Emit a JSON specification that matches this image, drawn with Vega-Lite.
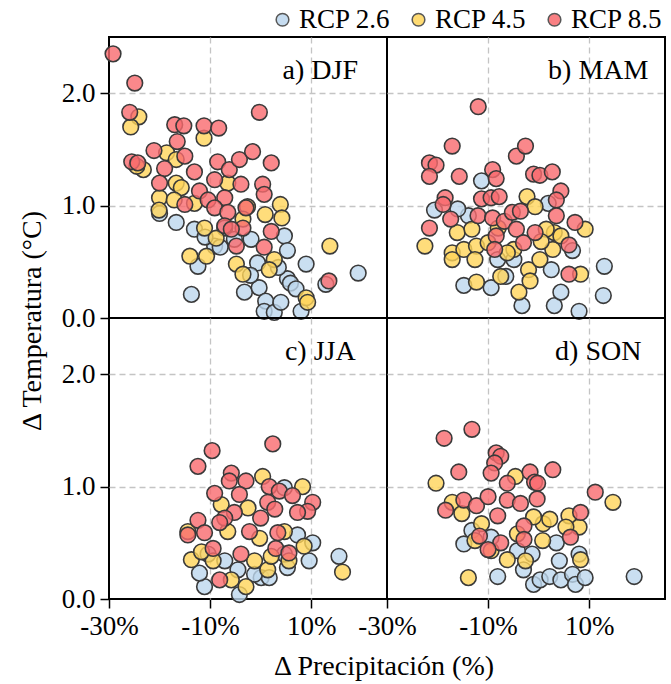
{
"$schema": "https://vega.github.io/schema/vega-lite/v6.json",
"padding": {"left": 18, "top": 6, "right": 0, "bottom": 0},
"background": "white",
"bounds": "flush",
"datasets": {"pts": [
{"panel":"a) DJF","rcp":"RCP 2.6","dp":-13.7,"dt":0.21},{"panel":"a) DJF","rcp":"RCP 2.6","dp":-16.7,"dt":0.85},{"panel":"a) DJF","rcp":"RCP 2.6","dp":-20.0,"dt":0.93},{"panel":"a) DJF","rcp":"RCP 2.6","dp":-12.4,"dt":0.46},{"panel":"a) DJF","rcp":"RCP 2.6","dp":-13.1,"dt":0.79},{"panel":"a) DJF","rcp":"RCP 2.6","dp":-9.1,"dt":0.64},{"panel":"a) DJF","rcp":"RCP 2.6","dp":-1.9,"dt":0.70},{"panel":"a) DJF","rcp":"RCP 2.6","dp":-3.2,"dt":0.23},{"panel":"a) DJF","rcp":"RCP 2.6","dp":-0.6,"dt":0.49},{"panel":"a) DJF","rcp":"RCP 2.6","dp":-0.3,"dt":0.27},{"panel":"a) DJF","rcp":"RCP 2.6","dp":1.0,"dt":0.15},{"panel":"a) DJF","rcp":"RCP 2.6","dp":0.7,"dt":0.06},{"panel":"a) DJF","rcp":"RCP 2.6","dp":2.7,"dt":0.05},{"panel":"a) DJF","rcp":"RCP 2.6","dp":4.0,"dt":0.14},{"panel":"a) DJF","rcp":"RCP 2.6","dp":5.3,"dt":0.35},{"panel":"a) DJF","rcp":"RCP 2.6","dp":5.9,"dt":0.31},{"panel":"a) DJF","rcp":"RCP 2.6","dp":7.0,"dt":0.26},{"panel":"a) DJF","rcp":"RCP 2.6","dp":9.0,"dt":0.48},{"panel":"a) DJF","rcp":"RCP 2.6","dp":8.0,"dt":0.06},{"panel":"a) DJF","rcp":"RCP 2.6","dp":19.3,"dt":0.40},{"panel":"a) DJF","rcp":"RCP 2.6","dp":12.9,"dt":0.30},{"panel":"a) DJF","rcp":"RCP 2.6","dp":4.7,"dt":0.73},{"panel":"a) DJF","rcp":"RCP 2.6","dp":5.3,"dt":0.60},{"panel":"a) DJF","rcp":"RCP 2.6","dp":-7.1,"dt":0.80},{"panel":"a) DJF","rcp":"RCP 2.6","dp":-5.2,"dt":0.70},{"panel":"a) DJF","rcp":"RCP 2.6","dp":-8.0,"dt":0.63},{"panel":"a) DJF","rcp":"RCP 2.6","dp":-11.0,"dt":0.72},{"panel":"a) DJF","rcp":"RCP 2.6","dp":3.5,"dt":0.45},{"panel":"a) DJF","rcp":"RCP 2.6","dp":-2.0,"dt":0.38},
{"panel":"b) MAM","rcp":"RCP 2.6","dp":-20.6,"dt":0.96},{"panel":"b) MAM","rcp":"RCP 2.6","dp":-11.3,"dt":1.22},{"panel":"b) MAM","rcp":"RCP 2.6","dp":-14.8,"dt":0.29},{"panel":"b) MAM","rcp":"RCP 2.6","dp":-9.4,"dt":0.27},{"panel":"b) MAM","rcp":"RCP 2.6","dp":-3.3,"dt":0.11},{"panel":"b) MAM","rcp":"RCP 2.6","dp":3.1,"dt":0.11},{"panel":"b) MAM","rcp":"RCP 2.6","dp":8.0,"dt":0.06},{"panel":"b) MAM","rcp":"RCP 2.6","dp":4.4,"dt":0.23},{"panel":"b) MAM","rcp":"RCP 2.6","dp":13.0,"dt":0.46},{"panel":"b) MAM","rcp":"RCP 2.6","dp":12.8,"dt":0.20},{"panel":"b) MAM","rcp":"RCP 2.6","dp":2.5,"dt":0.43},{"panel":"b) MAM","rcp":"RCP 2.6","dp":6.7,"dt":0.60},{"panel":"b) MAM","rcp":"RCP 2.6","dp":-6.5,"dt":0.37},{"panel":"b) MAM","rcp":"RCP 2.6","dp":1.9,"dt":1.02},{"panel":"b) MAM","rcp":"RCP 2.6","dp":-8.1,"dt":0.52},{"panel":"b) MAM","rcp":"RCP 2.6","dp":-4.9,"dt":0.52},{"panel":"b) MAM","rcp":"RCP 2.6","dp":-13.9,"dt":0.91},{"panel":"b) MAM","rcp":"RCP 2.6","dp":-16.0,"dt":0.97},
{"panel":"c) JJA","rcp":"RCP 2.6","dp":-11.1,"dt":0.11},{"panel":"c) JJA","rcp":"RCP 2.6","dp":-12.1,"dt":0.23},{"panel":"c) JJA","rcp":"RCP 2.6","dp":-4.2,"dt":0.04},{"panel":"c) JJA","rcp":"RCP 2.6","dp":0.1,"dt":0.19},{"panel":"c) JJA","rcp":"RCP 2.6","dp":1.7,"dt":0.19},{"panel":"c) JJA","rcp":"RCP 2.6","dp":5.3,"dt":0.28},{"panel":"c) JJA","rcp":"RCP 2.6","dp":9.6,"dt":0.34},{"panel":"c) JJA","rcp":"RCP 2.6","dp":10.3,"dt":0.50},{"panel":"c) JJA","rcp":"RCP 2.6","dp":7.3,"dt":0.57},{"panel":"c) JJA","rcp":"RCP 2.6","dp":4.7,"dt":0.99},{"panel":"c) JJA","rcp":"RCP 2.6","dp":15.5,"dt":0.38},{"panel":"c) JJA","rcp":"RCP 2.6","dp":-7.1,"dt":0.34},{"panel":"c) JJA","rcp":"RCP 2.6","dp":-4.5,"dt":0.26},{"panel":"c) JJA","rcp":"RCP 2.6","dp":-1.2,"dt":0.22},{"panel":"c) JJA","rcp":"RCP 2.6","dp":4.7,"dt":0.40},{"panel":"c) JJA","rcp":"RCP 2.6","dp":-10.4,"dt":0.40},
{"panel":"d) SON","rcp":"RCP 2.6","dp":-14.8,"dt":0.49},{"panel":"d) SON","rcp":"RCP 2.6","dp":-13.2,"dt":0.61},{"panel":"d) SON","rcp":"RCP 2.6","dp":-8.1,"dt":0.20},{"panel":"d) SON","rcp":"RCP 2.6","dp":-3.0,"dt":0.26},{"panel":"d) SON","rcp":"RCP 2.6","dp":-1.0,"dt":0.13},{"panel":"d) SON","rcp":"RCP 2.6","dp":0.3,"dt":0.17},{"panel":"d) SON","rcp":"RCP 2.6","dp":2.2,"dt":0.20},{"panel":"d) SON","rcp":"RCP 2.6","dp":4.4,"dt":0.17},{"panel":"d) SON","rcp":"RCP 2.6","dp":6.7,"dt":0.22},{"panel":"d) SON","rcp":"RCP 2.6","dp":7.3,"dt":0.13},{"panel":"d) SON","rcp":"RCP 2.6","dp":9.2,"dt":0.19},{"panel":"d) SON","rcp":"RCP 2.6","dp":18.9,"dt":0.20},{"panel":"d) SON","rcp":"RCP 2.6","dp":8.0,"dt":0.40},{"panel":"d) SON","rcp":"RCP 2.6","dp":3.5,"dt":0.50},{"panel":"d) SON","rcp":"RCP 2.6","dp":-1.3,"dt":0.40},{"panel":"d) SON","rcp":"RCP 2.6","dp":-9.4,"dt":0.55},{"panel":"d) SON","rcp":"RCP 2.6","dp":-4.2,"dt":0.43},{"panel":"d) SON","rcp":"RCP 2.6","dp":4.1,"dt":0.34},
{"panel":"a) DJF","rcp":"RCP 4.5","dp":-24.1,"dt":1.79},{"panel":"a) DJF","rcp":"RCP 4.5","dp":-25.7,"dt":1.70},{"panel":"a) DJF","rcp":"RCP 4.5","dp":-23.2,"dt":1.32},{"panel":"a) DJF","rcp":"RCP 4.5","dp":-18.6,"dt":1.47},{"panel":"a) DJF","rcp":"RCP 4.5","dp":-16.7,"dt":1.41},{"panel":"a) DJF","rcp":"RCP 4.5","dp":-11.2,"dt":1.60},{"panel":"a) DJF","rcp":"RCP 4.5","dp":-16.7,"dt":1.20},{"panel":"a) DJF","rcp":"RCP 4.5","dp":-15.7,"dt":1.16},{"panel":"a) DJF","rcp":"RCP 4.5","dp":-20.0,"dt":1.07},{"panel":"a) DJF","rcp":"RCP 4.5","dp":-20.1,"dt":0.96},{"panel":"a) DJF","rcp":"RCP 4.5","dp":-17.1,"dt":1.05},{"panel":"a) DJF","rcp":"RCP 4.5","dp":-13.1,"dt":1.02},{"panel":"a) DJF","rcp":"RCP 4.5","dp":-6.5,"dt":1.20},{"panel":"a) DJF","rcp":"RCP 4.5","dp":-2.6,"dt":0.99},{"panel":"a) DJF","rcp":"RCP 4.5","dp":3.9,"dt":1.01},{"panel":"a) DJF","rcp":"RCP 4.5","dp":0.9,"dt":0.92},{"panel":"a) DJF","rcp":"RCP 4.5","dp":4.2,"dt":0.89},{"panel":"a) DJF","rcp":"RCP 4.5","dp":-11.1,"dt":0.80},{"panel":"a) DJF","rcp":"RCP 4.5","dp":-8.8,"dt":0.71},{"panel":"a) DJF","rcp":"RCP 4.5","dp":-14.0,"dt":0.55},{"panel":"a) DJF","rcp":"RCP 4.5","dp":-10.7,"dt":0.55},{"panel":"a) DJF","rcp":"RCP 4.5","dp":-4.8,"dt":0.48},{"panel":"a) DJF","rcp":"RCP 4.5","dp":-3.5,"dt":0.39},{"panel":"a) DJF","rcp":"RCP 4.5","dp":2.7,"dt":0.52},{"panel":"a) DJF","rcp":"RCP 4.5","dp":1.7,"dt":0.43},{"panel":"a) DJF","rcp":"RCP 4.5","dp":13.7,"dt":0.64},{"panel":"a) DJF","rcp":"RCP 4.5","dp":9.0,"dt":0.18},{"panel":"a) DJF","rcp":"RCP 4.5","dp":9.3,"dt":0.14},{"panel":"a) DJF","rcp":"RCP 4.5","dp":-3.5,"dt":0.88},{"panel":"a) DJF","rcp":"RCP 4.5","dp":-24.5,"dt":1.35},
{"panel":"b) MAM","rcp":"RCP 4.5","dp":-22.5,"dt":0.64},{"panel":"b) MAM","rcp":"RCP 4.5","dp":-17.1,"dt":0.58},{"panel":"b) MAM","rcp":"RCP 4.5","dp":-17.1,"dt":0.52},{"panel":"b) MAM","rcp":"RCP 4.5","dp":-16.1,"dt":0.76},{"panel":"b) MAM","rcp":"RCP 4.5","dp":-14.8,"dt":0.61},{"panel":"b) MAM","rcp":"RCP 4.5","dp":-12.3,"dt":0.64},{"panel":"b) MAM","rcp":"RCP 4.5","dp":-12.6,"dt":0.52},{"panel":"b) MAM","rcp":"RCP 4.5","dp":-12.3,"dt":0.32},{"panel":"b) MAM","rcp":"RCP 4.5","dp":-7.5,"dt":0.37},{"panel":"b) MAM","rcp":"RCP 4.5","dp":-13.2,"dt":0.79},{"panel":"b) MAM","rcp":"RCP 4.5","dp":-2.3,"dt":1.08},{"panel":"b) MAM","rcp":"RCP 4.5","dp":-0.7,"dt":0.99},{"panel":"b) MAM","rcp":"RCP 4.5","dp":-4.9,"dt":0.61},{"panel":"b) MAM","rcp":"RCP 4.5","dp":-2.0,"dt":0.43},{"panel":"b) MAM","rcp":"RCP 4.5","dp":0.25,"dt":0.52},{"panel":"b) MAM","rcp":"RCP 4.5","dp":2.8,"dt":0.61},{"panel":"b) MAM","rcp":"RCP 4.5","dp":3.1,"dt":0.76},{"panel":"b) MAM","rcp":"RCP 4.5","dp":4.4,"dt":0.73},{"panel":"b) MAM","rcp":"RCP 4.5","dp":9.2,"dt":0.79},{"panel":"b) MAM","rcp":"RCP 4.5","dp":8.3,"dt":0.39},{"panel":"b) MAM","rcp":"RCP 4.5","dp":-3.9,"dt":0.23},{"panel":"b) MAM","rcp":"RCP 4.5","dp":-1.7,"dt":0.33},{"panel":"b) MAM","rcp":"RCP 4.5","dp":1.5,"dt":0.79},{"panel":"b) MAM","rcp":"RCP 4.5","dp":-10.0,"dt":0.67},{"panel":"b) MAM","rcp":"RCP 4.5","dp":-6.2,"dt":0.58},{"panel":"b) MAM","rcp":"RCP 4.5","dp":-8.0,"dt":0.80},{"panel":"b) MAM","rcp":"RCP 4.5","dp":0.5,"dt":0.68},
{"panel":"c) JJA","rcp":"RCP 4.5","dp":0.4,"dt":1.09},{"panel":"c) JJA","rcp":"RCP 4.5","dp":8.3,"dt":1.00},{"panel":"c) JJA","rcp":"RCP 4.5","dp":-14.4,"dt":0.60},{"panel":"c) JJA","rcp":"RCP 4.5","dp":-13.7,"dt":0.35},{"panel":"c) JJA","rcp":"RCP 4.5","dp":-9.4,"dt":0.34},{"panel":"c) JJA","rcp":"RCP 4.5","dp":-5.8,"dt":0.17},{"panel":"c) JJA","rcp":"RCP 4.5","dp":-2.9,"dt":0.11},{"panel":"c) JJA","rcp":"RCP 4.5","dp":-1.2,"dt":0.34},{"panel":"c) JJA","rcp":"RCP 4.5","dp":1.4,"dt":0.26},{"panel":"c) JJA","rcp":"RCP 4.5","dp":8.6,"dt":0.47},{"panel":"c) JJA","rcp":"RCP 4.5","dp":16.2,"dt":0.24},{"panel":"c) JJA","rcp":"RCP 4.5","dp":-0.2,"dt":0.54},{"panel":"c) JJA","rcp":"RCP 4.5","dp":4.7,"dt":0.60},{"panel":"c) JJA","rcp":"RCP 4.5","dp":-6.5,"dt":0.60},{"panel":"c) JJA","rcp":"RCP 4.5","dp":-7.8,"dt":0.84},{"panel":"c) JJA","rcp":"RCP 4.5","dp":5.6,"dt":0.34},{"panel":"c) JJA","rcp":"RCP 4.5","dp":-2.5,"dt":0.81},{"panel":"c) JJA","rcp":"RCP 4.5","dp":-11.7,"dt":0.42},{"panel":"c) JJA","rcp":"RCP 4.5","dp":2.1,"dt":0.38},
{"panel":"d) SON","rcp":"RCP 4.5","dp":-20.3,"dt":1.03},{"panel":"d) SON","rcp":"RCP 4.5","dp":14.7,"dt":0.86},{"panel":"d) SON","rcp":"RCP 4.5","dp":-4.6,"dt":1.09},{"panel":"d) SON","rcp":"RCP 4.5","dp":-13.9,"dt":0.19},{"panel":"d) SON","rcp":"RCP 4.5","dp":-17.1,"dt":0.86},{"panel":"d) SON","rcp":"RCP 4.5","dp":-15.2,"dt":0.76},{"panel":"d) SON","rcp":"RCP 4.5","dp":-11.3,"dt":0.67},{"panel":"d) SON","rcp":"RCP 4.5","dp":-12.6,"dt":0.52},{"panel":"d) SON","rcp":"RCP 4.5","dp":-6.2,"dt":0.35},{"panel":"d) SON","rcp":"RCP 4.5","dp":-2.6,"dt":0.34},{"panel":"d) SON","rcp":"RCP 4.5","dp":0.9,"dt":0.67},{"panel":"d) SON","rcp":"RCP 4.5","dp":2.2,"dt":0.71},{"panel":"d) SON","rcp":"RCP 4.5","dp":0.8,"dt":0.52},{"panel":"d) SON","rcp":"RCP 4.5","dp":6.0,"dt":0.74},{"panel":"d) SON","rcp":"RCP 4.5","dp":8.0,"dt":0.64},{"panel":"d) SON","rcp":"RCP 4.5","dp":8.3,"dt":0.35},{"panel":"d) SON","rcp":"RCP 4.5","dp":5.4,"dt":0.64},{"panel":"d) SON","rcp":"RCP 4.5","dp":-4.2,"dt":0.58},{"panel":"d) SON","rcp":"RCP 4.5","dp":-1.0,"dt":0.73},{"panel":"d) SON","rcp":"RCP 4.5","dp":-9.4,"dt":0.43},
{"panel":"a) DJF","rcp":"RCP 8.5","dp":-29.2,"dt":2.35},{"panel":"a) DJF","rcp":"RCP 8.5","dp":-24.9,"dt":2.09},{"panel":"a) DJF","rcp":"RCP 8.5","dp":-25.9,"dt":1.83},{"panel":"a) DJF","rcp":"RCP 8.5","dp":-17.0,"dt":1.72},{"panel":"a) DJF","rcp":"RCP 8.5","dp":-15.2,"dt":1.71},{"panel":"a) DJF","rcp":"RCP 8.5","dp":-11.2,"dt":1.71},{"panel":"a) DJF","rcp":"RCP 8.5","dp":-8.3,"dt":1.69},{"panel":"a) DJF","rcp":"RCP 8.5","dp":-0.25,"dt":1.83},{"panel":"a) DJF","rcp":"RCP 8.5","dp":-25.5,"dt":1.39},{"panel":"a) DJF","rcp":"RCP 8.5","dp":-24.3,"dt":1.38},{"panel":"a) DJF","rcp":"RCP 8.5","dp":-21.1,"dt":1.49},{"panel":"a) DJF","rcp":"RCP 8.5","dp":-16.5,"dt":1.57},{"panel":"a) DJF","rcp":"RCP 8.5","dp":-19.0,"dt":1.33},{"panel":"a) DJF","rcp":"RCP 8.5","dp":-15.0,"dt":1.44},{"panel":"a) DJF","rcp":"RCP 8.5","dp":-13.1,"dt":1.30},{"panel":"a) DJF","rcp":"RCP 8.5","dp":-8.5,"dt":1.39},{"panel":"a) DJF","rcp":"RCP 8.5","dp":-6.2,"dt":1.32},{"panel":"a) DJF","rcp":"RCP 8.5","dp":-4.2,"dt":1.41},{"panel":"a) DJF","rcp":"RCP 8.5","dp":-1.6,"dt":1.48},{"panel":"a) DJF","rcp":"RCP 8.5","dp":2.1,"dt":1.38},{"panel":"a) DJF","rcp":"RCP 8.5","dp":-20.0,"dt":1.20},{"panel":"a) DJF","rcp":"RCP 8.5","dp":-9.1,"dt":1.23},{"panel":"a) DJF","rcp":"RCP 8.5","dp":-3.9,"dt":1.19},{"panel":"a) DJF","rcp":"RCP 8.5","dp":0.4,"dt":1.19},{"panel":"a) DJF","rcp":"RCP 8.5","dp":0.7,"dt":1.10},{"panel":"a) DJF","rcp":"RCP 8.5","dp":-12.1,"dt":1.13},{"panel":"a) DJF","rcp":"RCP 8.5","dp":-10.4,"dt":1.05},{"panel":"a) DJF","rcp":"RCP 8.5","dp":-7.1,"dt":1.07},{"panel":"a) DJF","rcp":"RCP 8.5","dp":-15.0,"dt":1.01},{"panel":"a) DJF","rcp":"RCP 8.5","dp":-9.1,"dt":0.98},{"panel":"a) DJF","rcp":"RCP 8.5","dp":-6.5,"dt":0.94},{"panel":"a) DJF","rcp":"RCP 8.5","dp":-2.9,"dt":0.98},{"panel":"a) DJF","rcp":"RCP 8.5","dp":-7.1,"dt":0.82},{"panel":"a) DJF","rcp":"RCP 8.5","dp":-3.5,"dt":0.80},{"panel":"a) DJF","rcp":"RCP 8.5","dp":-5.8,"dt":0.79},{"panel":"a) DJF","rcp":"RCP 8.5","dp":2.1,"dt":0.77},{"panel":"a) DJF","rcp":"RCP 8.5","dp":-4.8,"dt":0.64},{"panel":"a) DJF","rcp":"RCP 8.5","dp":0.7,"dt":0.63},{"panel":"a) DJF","rcp":"RCP 8.5","dp":13.5,"dt":0.33},
{"panel":"b) MAM","rcp":"RCP 8.5","dp":-11.95,"dt":1.88},{"panel":"b) MAM","rcp":"RCP 8.5","dp":-17.1,"dt":1.53},{"panel":"b) MAM","rcp":"RCP 8.5","dp":-21.6,"dt":1.38},{"panel":"b) MAM","rcp":"RCP 8.5","dp":-20.3,"dt":1.36},{"panel":"b) MAM","rcp":"RCP 8.5","dp":-21.6,"dt":1.26},{"panel":"b) MAM","rcp":"RCP 8.5","dp":-15.7,"dt":1.26},{"panel":"b) MAM","rcp":"RCP 8.5","dp":-9.1,"dt":1.32},{"panel":"b) MAM","rcp":"RCP 8.5","dp":-8.4,"dt":1.24},{"panel":"b) MAM","rcp":"RCP 8.5","dp":-4.4,"dt":1.44},{"panel":"b) MAM","rcp":"RCP 8.5","dp":-2.6,"dt":1.53},{"panel":"b) MAM","rcp":"RCP 8.5","dp":-1.0,"dt":1.28},{"panel":"b) MAM","rcp":"RCP 8.5","dp":0.25,"dt":1.27},{"panel":"b) MAM","rcp":"RCP 8.5","dp":2.7,"dt":1.30},{"panel":"b) MAM","rcp":"RCP 8.5","dp":4.4,"dt":1.13},{"panel":"b) MAM","rcp":"RCP 8.5","dp":3.5,"dt":1.05},{"panel":"b) MAM","rcp":"RCP 8.5","dp":-18.5,"dt":1.07},{"panel":"b) MAM","rcp":"RCP 8.5","dp":-18.9,"dt":1.01},{"panel":"b) MAM","rcp":"RCP 8.5","dp":-21.6,"dt":0.80},{"panel":"b) MAM","rcp":"RCP 8.5","dp":-17.4,"dt":0.88},{"panel":"b) MAM","rcp":"RCP 8.5","dp":-11.3,"dt":1.06},{"panel":"b) MAM","rcp":"RCP 8.5","dp":-9.4,"dt":1.07},{"panel":"b) MAM","rcp":"RCP 8.5","dp":-7.8,"dt":1.08},{"panel":"b) MAM","rcp":"RCP 8.5","dp":-12.0,"dt":0.91},{"panel":"b) MAM","rcp":"RCP 8.5","dp":-9.1,"dt":0.89},{"panel":"b) MAM","rcp":"RCP 8.5","dp":-6.8,"dt":0.86},{"panel":"b) MAM","rcp":"RCP 8.5","dp":-5.2,"dt":0.94},{"panel":"b) MAM","rcp":"RCP 8.5","dp":-3.6,"dt":0.95},{"panel":"b) MAM","rcp":"RCP 8.5","dp":-4.4,"dt":0.79},{"panel":"b) MAM","rcp":"RCP 8.5","dp":-8.4,"dt":0.73},{"panel":"b) MAM","rcp":"RCP 8.5","dp":-8.7,"dt":0.61},{"panel":"b) MAM","rcp":"RCP 8.5","dp":-3.0,"dt":0.67},{"panel":"b) MAM","rcp":"RCP 8.5","dp":-0.7,"dt":0.76},{"panel":"b) MAM","rcp":"RCP 8.5","dp":3.5,"dt":0.91},{"panel":"b) MAM","rcp":"RCP 8.5","dp":7.2,"dt":0.85},{"panel":"b) MAM","rcp":"RCP 8.5","dp":6.0,"dt":0.65},{"panel":"b) MAM","rcp":"RCP 8.5","dp":6.0,"dt":0.39},
{"panel":"c) JJA","rcp":"RCP 8.5","dp":-9.6,"dt":1.32},{"panel":"c) JJA","rcp":"RCP 8.5","dp":-12.4,"dt":1.18},{"panel":"c) JJA","rcp":"RCP 8.5","dp":2.4,"dt":1.38},{"panel":"c) JJA","rcp":"RCP 8.5","dp":-5.8,"dt":1.12},{"panel":"c) JJA","rcp":"RCP 8.5","dp":-6.2,"dt":1.05},{"panel":"c) JJA","rcp":"RCP 8.5","dp":-2.9,"dt":1.05},{"panel":"c) JJA","rcp":"RCP 8.5","dp":-9.1,"dt":0.94},{"panel":"c) JJA","rcp":"RCP 8.5","dp":-4.2,"dt":0.93},{"panel":"c) JJA","rcp":"RCP 8.5","dp":1.7,"dt":1.00},{"panel":"c) JJA","rcp":"RCP 8.5","dp":3.7,"dt":0.96},{"panel":"c) JJA","rcp":"RCP 8.5","dp":6.3,"dt":0.92},{"panel":"c) JJA","rcp":"RCP 8.5","dp":10.3,"dt":0.86},{"panel":"c) JJA","rcp":"RCP 8.5","dp":9.3,"dt":0.78},{"panel":"c) JJA","rcp":"RCP 8.5","dp":7.3,"dt":0.77},{"panel":"c) JJA","rcp":"RCP 8.5","dp":1.4,"dt":0.86},{"panel":"c) JJA","rcp":"RCP 8.5","dp":2.8,"dt":0.80},{"panel":"c) JJA","rcp":"RCP 8.5","dp":-5.2,"dt":0.77},{"panel":"c) JJA","rcp":"RCP 8.5","dp":-7.1,"dt":0.72},{"panel":"c) JJA","rcp":"RCP 8.5","dp":-12.4,"dt":0.70},{"panel":"c) JJA","rcp":"RCP 8.5","dp":-8.1,"dt":0.68},{"panel":"c) JJA","rcp":"RCP 8.5","dp":0.0,"dt":0.72},{"panel":"c) JJA","rcp":"RCP 8.5","dp":-14.4,"dt":0.57},{"panel":"c) JJA","rcp":"RCP 8.5","dp":-11.1,"dt":0.59},{"panel":"c) JJA","rcp":"RCP 8.5","dp":-2.2,"dt":0.60},{"panel":"c) JJA","rcp":"RCP 8.5","dp":3.4,"dt":0.59},{"panel":"c) JJA","rcp":"RCP 8.5","dp":-9.4,"dt":0.45},{"panel":"c) JJA","rcp":"RCP 8.5","dp":-3.9,"dt":0.40},{"panel":"c) JJA","rcp":"RCP 8.5","dp":3.0,"dt":0.45},{"panel":"c) JJA","rcp":"RCP 8.5","dp":5.6,"dt":0.41},{"panel":"c) JJA","rcp":"RCP 8.5","dp":-8.1,"dt":0.17},
{"panel":"d) SON","rcp":"RCP 8.5","dp":-18.7,"dt":1.43},{"panel":"d) SON","rcp":"RCP 8.5","dp":-13.2,"dt":1.51},{"panel":"d) SON","rcp":"RCP 8.5","dp":-15.8,"dt":1.13},{"panel":"d) SON","rcp":"RCP 8.5","dp":-8.4,"dt":1.30},{"panel":"d) SON","rcp":"RCP 8.5","dp":-7.5,"dt":1.27},{"panel":"d) SON","rcp":"RCP 8.5","dp":-8.7,"dt":1.21},{"panel":"d) SON","rcp":"RCP 8.5","dp":-9.4,"dt":1.12},{"panel":"d) SON","rcp":"RCP 8.5","dp":-1.7,"dt":1.13},{"panel":"d) SON","rcp":"RCP 8.5","dp":2.8,"dt":1.15},{"panel":"d) SON","rcp":"RCP 8.5","dp":-0.8,"dt":1.04},{"panel":"d) SON","rcp":"RCP 8.5","dp":-0.2,"dt":1.03},{"panel":"d) SON","rcp":"RCP 8.5","dp":-0.3,"dt":0.89},{"panel":"d) SON","rcp":"RCP 8.5","dp":-6.2,"dt":1.03},{"panel":"d) SON","rcp":"RCP 8.5","dp":11.2,"dt":0.95},{"panel":"d) SON","rcp":"RCP 8.5","dp":-14.8,"dt":0.88},{"panel":"d) SON","rcp":"RCP 8.5","dp":-12.3,"dt":0.83},{"panel":"d) SON","rcp":"RCP 8.5","dp":-18.4,"dt":0.79},{"panel":"d) SON","rcp":"RCP 8.5","dp":-10.0,"dt":0.91},{"panel":"d) SON","rcp":"RCP 8.5","dp":-6.2,"dt":0.88},{"panel":"d) SON","rcp":"RCP 8.5","dp":-3.6,"dt":0.85},{"panel":"d) SON","rcp":"RCP 8.5","dp":-8.1,"dt":0.74},{"panel":"d) SON","rcp":"RCP 8.5","dp":8.3,"dt":0.77},{"panel":"d) SON","rcp":"RCP 8.5","dp":-2.9,"dt":0.65},{"panel":"d) SON","rcp":"RCP 8.5","dp":-11.7,"dt":0.56},{"panel":"d) SON","rcp":"RCP 8.5","dp":-2.9,"dt":0.53},{"panel":"d) SON","rcp":"RCP 8.5","dp":6.3,"dt":0.55},{"panel":"d) SON","rcp":"RCP 8.5","dp":-7.5,"dt":0.50},{"panel":"d) SON","rcp":"RCP 8.5","dp":-10.0,"dt":0.44}
],
"grid": [
{"panel":"a) DJF","fila":"1","col":"1"},{"panel":"b) MAM","fila":"1","col":"2"},{"panel":"c) JJA","fila":"2","col":"1"},{"panel":"d) SON","fila":"2","col":"2"}
]},
"data": {"name": "pts"},
"transform": [{"lookup": "panel", "from": {"data": {"name": "grid"}, "key": "panel", "fields": ["fila", "col"]}}],
"facet": {
  "row": {"field": "fila", "type": "nominal", "header": {"labels": false, "title": "Δ Temperatura (°C)", "titleOrient": "left", "titlePadding": 4}},
  "column": {"field": "col", "type": "nominal", "header": {"labels": false, "title": "Δ Precipitación (%)", "titleOrient": "bottom", "titlePadding": 4}}
},
"spacing": 0,
"spec": {
  "width": 278,
  "height": 281,
  "layer": [
    {
      "mark": {"type": "circle", "size": 245, "fillOpacity": 0.8, "opacity": 1, "stroke": "#3a3a3a", "strokeWidth": 1.6},
      "encoding": {
        "x": {"field": "dp", "type": "quantitative", "scale": {"domain": [-30, 25], "nice": false, "zero": false},
              "axis": {"values": [-30, -10, 10], "labelExpr": "datum.value + '%'", "title": null,
                       "gridOpacity": {"condition": {"test": "datum.value == -30", "value": 0}, "value": 1}}},
        "y": {"field": "dt", "type": "quantitative", "scale": {"domain": [0, 2.5], "nice": false},
              "axis": {"values": [0, 1, 2], "format": ".1f", "title": null,
                       "gridOpacity": {"condition": {"test": "datum.value == 0", "value": 0}, "value": 1}}},
        "color": {"field": "rcp", "type": "nominal",
                  "scale": {"domain": ["RCP 2.6", "RCP 4.5", "RCP 8.5"], "range": ["#bdd7ee", "#ffd55a", "#f96a6e"]},
                  "legend": {"title": null, "orient": "none", "direction": "horizontal", "legendX": 160, "legendY": -31,
                             "symbolType": "circle", "symbolSize": 160, "symbolStrokeColor": "#3a3a3a", "symbolStrokeWidth": 1.5,
                             "symbolOpacity": 0.85,
                             "labelFont": "Liberation Serif", "labelFontSize": 27, "labelColor": "black", "columnPadding": 14, "labelOffset": 3}}
      }
    },
    {
      "transform": [{"aggregate": [{"op": "count", "as": "n"}], "groupby": ["panel", "fila", "col"]}],
      "mark": {"type": "text", "font": "Liberation Serif", "fontSize": 28, "align": "center", "baseline": "middle", "color": "black"},
      "encoding": {"x": {"datum": 11.8}, "y": {"datum": 2.2}, "text": {"field": "panel"}}
    }
  ]
},
"config": {
  "font": "Liberation Serif",
  "view": {"stroke": "black", "strokeWidth": 2},
  "header": {"titleFont": "Liberation Serif", "titleFontSize": 28, "titleFontWeight": "normal", "titleColor": "black"},
  "legend": {"labelFont": "Liberation Serif"},
  "axis": {"labelFont": "Liberation Serif", "labelFontSize": 27,
           "labelColor": "black", "domain": false,
           "tickColor": "black", "tickSize": 9, "tickWidth": 1.5, "labelFlush": false, "labelPadding": 5,
           "gridColor": "#c4c4c4", "gridDash": [6, 4], "gridWidth": 1.3}
}
}
